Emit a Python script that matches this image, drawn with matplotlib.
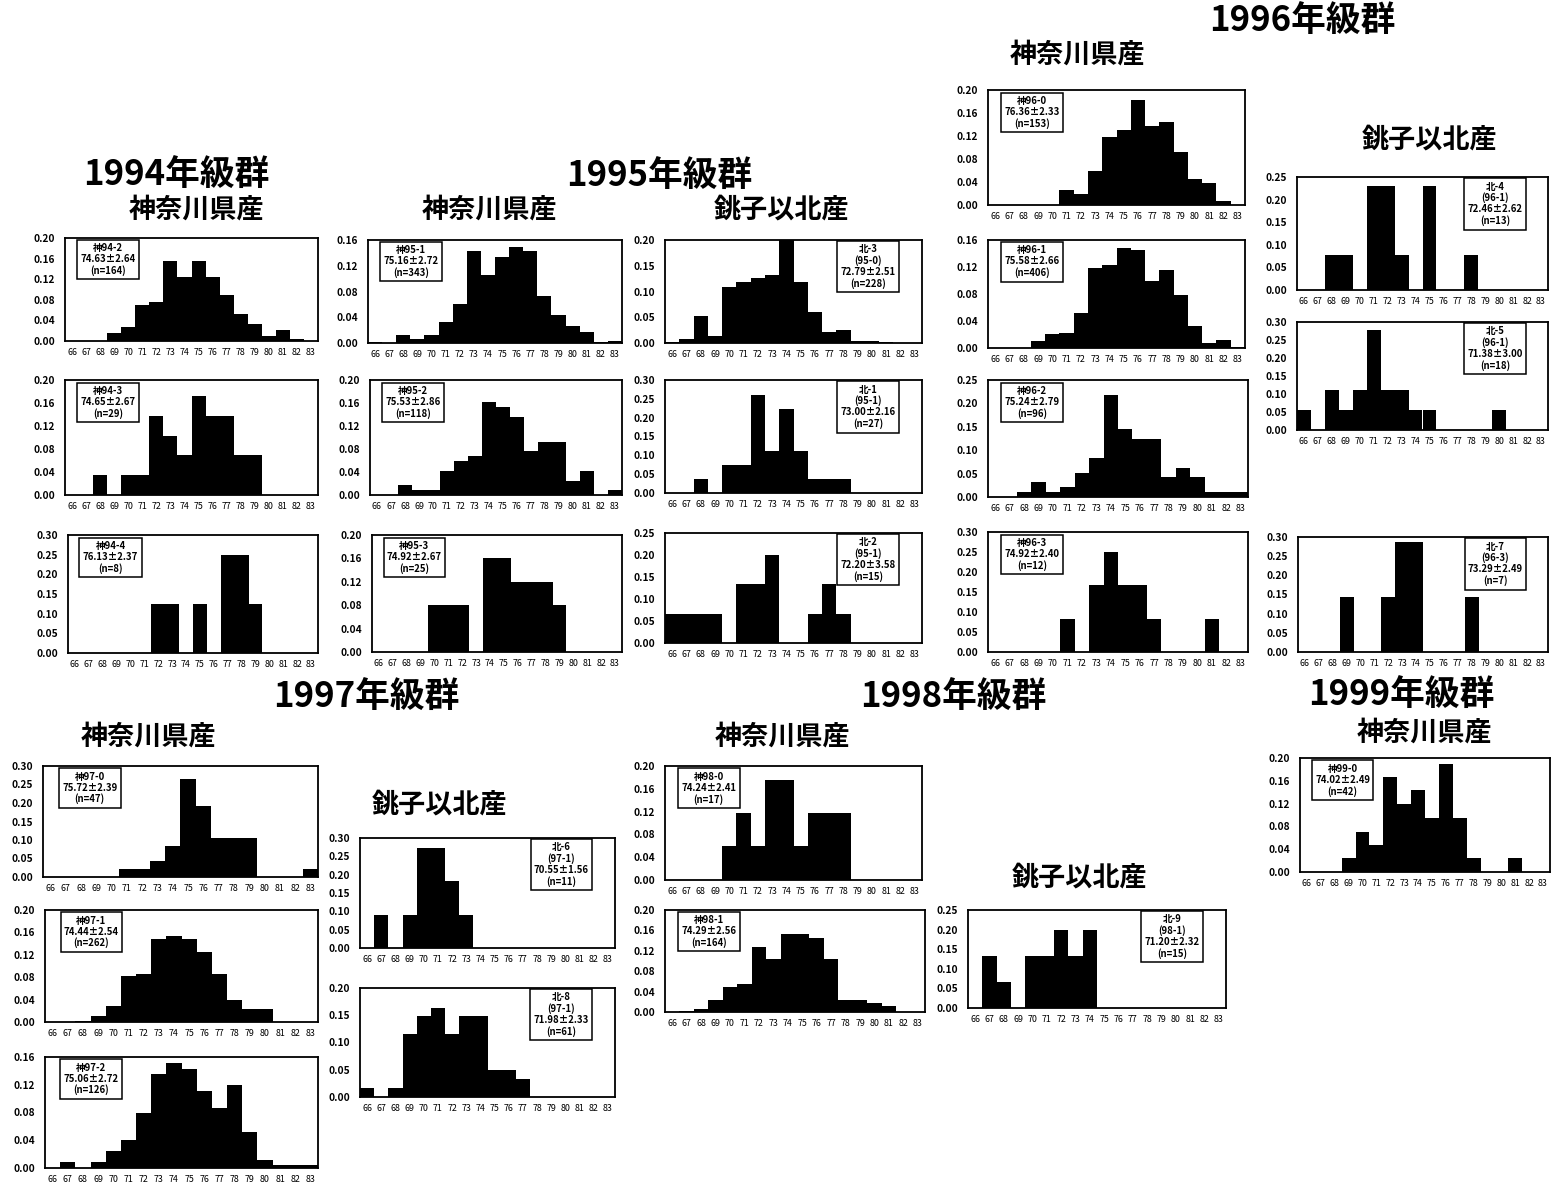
import numpy as np
import matplotlib
matplotlib.use("Agg")
import matplotlib.pyplot as plt

plt.rcParams['font.family'] = ['Noto Sans CJK JP', 'DejaVu Sans']

W, H = 1554, 1198

# 全長階級 (66 ~ 83)
bins = list(range(66, 84))

# 1994年級群
k94_2 = [0, 0, 0, 0.015, 0.027, 0.070, 0.076, 0.155, 0.125, 0.155, 0.125, 0.090, 0.052, 0.033, 0.009, 0.021, 0.003, 0]
k94_3 = [0, 0, 0.034, 0, 0.034, 0.034, 0.138, 0.103, 0.069, 0.172, 0.138, 0.138, 0.069, 0.069, 0, 0, 0, 0]
k94_4 = [0, 0, 0, 0, 0, 0, 0.125, 0.125, 0, 0.125, 0, 0.25, 0.25, 0.125, 0, 0, 0, 0]
# 1995年級群
k95_1 = [0.001, 0, 0.012, 0.006, 0.012, 0.032, 0.061, 0.143, 0.105, 0.134, 0.149, 0.143, 0.073, 0.044, 0.026, 0.017, 0.001, 0.003]
k95_2 = [0, 0, 0.017, 0.008, 0.008, 0.042, 0.059, 0.068, 0.161, 0.153, 0.136, 0.076, 0.093, 0.093, 0.025, 0.042, 0, 0.008]
k95_3 = [0, 0, 0, 0, 0.08, 0.08, 0.08, 0, 0.16, 0.16, 0.12, 0.12, 0.12, 0.08, 0, 0, 0, 0]
n95_3 = [0.002, 0.007, 0.052, 0.013, 0.109, 0.118, 0.127, 0.132, 0.200, 0.118, 0.061, 0.022, 0.026, 0.004, 0.004, 0.002, 0, 0]
n95_1 = [0, 0, 0.037, 0, 0.074, 0.074, 0.259, 0.111, 0.222, 0.111, 0.037, 0.037, 0.037, 0, 0, 0, 0, 0]
n95_2 = [0.067, 0.067, 0.067, 0.067, 0, 0.133, 0.133, 0.200, 0, 0, 0.067, 0.133, 0.067, 0, 0, 0, 0, 0]
# 1996年級群
k96_0 = [0, 0, 0, 0, 0, 0.026, 0.020, 0.059, 0.118, 0.131, 0.183, 0.137, 0.144, 0.092, 0.046, 0.039, 0.007, 0]
k96_1 = [0, 0, 0, 0.010, 0.020, 0.022, 0.052, 0.118, 0.123, 0.148, 0.145, 0.099, 0.116, 0.079, 0.032, 0.007, 0.012, 0.002]
k96_2 = [0, 0, 0.010, 0.031, 0.010, 0.021, 0.052, 0.083, 0.219, 0.146, 0.125, 0.125, 0.042, 0.063, 0.042, 0.010, 0.010, 0.010]
k96_3 = [0, 0, 0, 0, 0, 0.083, 0, 0.167, 0.250, 0.167, 0.167, 0.083, 0, 0, 0, 0.083, 0, 0]
n96_4 = [0, 0, 0.077, 0.077, 0, 0.231, 0.231, 0.077, 0, 0.231, 0, 0, 0.077, 0, 0, 0, 0, 0]
n96_5 = [0.056, 0, 0.111, 0.056, 0.111, 0.278, 0.111, 0.111, 0.056, 0.056, 0, 0, 0, 0, 0.056, 0, 0, 0]
n96_7 = [0, 0, 0, 0.143, 0, 0, 0.143, 0.286, 0.286, 0, 0, 0, 0.143, 0, 0, 0, 0, 0]
# 1997年級群
k97_0 = [0, 0, 0, 0, 0, 0.021, 0.021, 0.043, 0.085, 0.266, 0.191, 0.106, 0.106, 0.106, 0, 0, 0, 0.021]
k97_1 = [0, 0, 0.002, 0.011, 0.029, 0.083, 0.086, 0.149, 0.154, 0.149, 0.125, 0.086, 0.040, 0.023, 0.023, 0, 0, 0]
k97_2 = [0, 0.008, 0, 0.008, 0.024, 0.040, 0.079, 0.135, 0.151, 0.143, 0.111, 0.087, 0.119, 0.052, 0.012, 0.004, 0.004, 0.004]
n97_6 = [0, 0.091, 0, 0.091, 0.273, 0.273, 0.182, 0.091, 0, 0, 0, 0, 0, 0, 0, 0, 0, 0]
n97_8 = [0.016, 0, 0.016, 0.115, 0.148, 0.164, 0.115, 0.148, 0.148, 0.049, 0.049, 0.033, 0, 0, 0, 0, 0, 0]
# 1998年級群
k98_0 = [0, 0, 0, 0, 0.059, 0.118, 0.059, 0.176, 0.176, 0.059, 0.118, 0.118, 0.118, 0, 0, 0, 0, 0]
k98_1 = [0, 0.001, 0.006, 0.024, 0.049, 0.055, 0.128, 0.104, 0.152, 0.152, 0.146, 0.104, 0.024, 0.024, 0.018, 0.012, 0, 0]
n98_9 = [0, 0.133, 0.067, 0, 0.133, 0.133, 0.200, 0.133, 0.200, 0, 0, 0, 0, 0, 0, 0, 0, 0]
# 1999年級群
k99_0 = [0, 0, 0, 0.024, 0.071, 0.048, 0.167, 0.119, 0.143, 0.095, 0.190, 0.095, 0.024, 0, 0, 0.024, 0, 0]

# 凡例ボックスの文字
box_text = {
    'k94_2': ['神94-2', '74.63±2.64', '(n=164)'],
    'k94_3': ['神94-3', '74.65±2.67', '(n=29)'],
    'k94_4': ['神94-4', '76.13±2.37', '(n=8)'],
    'k95_1': ['神95-1', '75.16±2.72', '(n=343)'],
    'k95_2': ['神95-2', '75.53±2.86', '(n=118)'],
    'k95_3': ['神95-3', '74.92±2.67', '(n=25)'],
    'n95_3': ['北-3', '(95-0)', '72.79±2.51', '(n=228)'],
    'n95_1': ['北-1', '(95-1)', '73.00±2.16', '(n=27)'],
    'n95_2': ['北-2', '(95-1)', '72.20±3.58', '(n=15)'],
    'k96_0': ['神96-0', '76.36±2.33', '(n=153)'],
    'k96_1': ['神96-1', '75.58±2.66', '(n=406)'],
    'k96_2': ['神96-2', '75.24±2.79', '(n=96)'],
    'k96_3': ['神96-3', '74.92±2.40', '(n=12)'],
    'n96_4': ['北-4', '(96-1)', '72.46±2.62', '(n=13)'],
    'n96_5': ['北-5', '(96-1)', '71.38±3.00', '(n=18)'],
    'n96_7': ['北-7', '(96-3)', '73.29±2.49', '(n=7)'],
    'k97_0': ['神97-0', '75.72±2.39', '(n=47)'],
    'k97_1': ['神97-1', '74.44±2.54', '(n=262)'],
    'k97_2': ['神97-2', '75.06±2.72', '(n=126)'],
    'n97_6': ['北-6', '(97-1)', '70.55±1.56', '(n=11)'],
    'n97_8': ['北-8', '(97-1)', '71.98±2.33', '(n=61)'],
    'k98_0': ['神98-0', '74.24±2.41', '(n=17)'],
    'k98_1': ['神98-1', '74.29±2.56', '(n=164)'],
    'n98_9': ['北-9', '(98-1)', '71.20±2.32', '(n=15)'],
    'k99_0': ['神99-0', '74.02±2.49', '(n=42)'],
}

# 配置 (px: left, top, right, bottom), y上限, 目盛間隔
panels = [
    ('k94_2', k94_2, (65, 238, 318, 341), 0.20, 0.04),
    ('k94_3', k94_3, (65, 380, 318, 495), 0.20, 0.04),
    ('k94_4', k94_4, (68, 535, 318, 653), 0.30, 0.05),
    ('k95_1', k95_1, (368, 240, 622, 343), 0.16, 0.04),
    ('k95_2', k95_2, (370, 380, 622, 495), 0.20, 0.04),
    ('k95_3', k95_3, (372, 535, 622, 652), 0.20, 0.04),
    ('n95_3', n95_3, (665, 240, 922, 343), 0.20, 0.05),
    ('n95_1', n95_1, (665, 380, 922, 493), 0.30, 0.05),
    ('n95_2', n95_2, (665, 533, 922, 643), 0.25, 0.05),
    ('k96_0', k96_0, (988, 90, 1245, 205), 0.20, 0.04),
    ('k96_1', k96_1, (988, 240, 1245, 348), 0.16, 0.04),
    ('k96_2', k96_2, (988, 380, 1248, 497), 0.25, 0.05),
    ('k96_3', k96_3, (988, 532, 1248, 652), 0.30, 0.05),
    ('n96_4', n96_4, (1297, 177, 1548, 290), 0.25, 0.05),
    ('n96_5', n96_5, (1297, 322, 1548, 430), 0.30, 0.05),
    ('n96_7', n96_7, (1298, 537, 1548, 652), 0.30, 0.05),
    ('k97_0', k97_0, (43, 766, 318, 877), 0.30, 0.05),
    ('k97_1', k97_1, (45, 910, 318, 1022), 0.20, 0.04),
    ('k97_2', k97_2, (45, 1057, 318, 1168), 0.16, 0.04),
    ('n97_6', n97_6, (360, 838, 615, 948), 0.30, 0.05),
    ('n97_8', n97_8, (360, 988, 615, 1097), 0.20, 0.05),
    ('k98_0', k98_0, (665, 766, 922, 880), 0.20, 0.04),
    ('k98_1', k98_1, (665, 910, 925, 1012), 0.20, 0.04),
    ('n98_9', n98_9, (968, 910, 1226, 1008), 0.25, 0.05),
    ('k99_0', k99_0, (1300, 758, 1550, 872), 0.20, 0.04),
]

titles = [
    ('1994年級群', 176, 175), ('1995年級群', 659, 176), ('1996年級群', 1302, 21),
    ('1997年級群', 366, 697), ('1998年級群', 953, 697), ('1999年級群', 1401, 695),
]
subtitles = [
    ('神奈川県産', 196, 210), ('神奈川県産', 489, 210), ('銚子以北産', 782, 210),
    ('神奈川県産', 1077, 55), ('銚子以北産', 1430, 140),
    ('神奈川県産', 148, 737), ('銚子以北産', 440, 805),
    ('神奈川県産', 782, 737), ('銚子以北産', 1080, 878),
    ('神奈川県産', 1424, 733),
]

fig = plt.figure(figsize=(W / 100, H / 100), dpi=100)


def draw_panel(name, vals, box, ymax, ystep):
    l, t, r, b = box
    ax = fig.add_axes([l / W, 1 - b / H, (r - l) / W, (b - t) / H])
    x = np.arange(len(bins))
    ax.bar(x, vals, width=1.0, color='black', linewidth=0)
    ax.set_xlim(-0.5, len(bins) - 0.5)
    ax.set_ylim(0, ymax)
    yt = np.arange(0, ymax + 1e-9, ystep)
    ax.set_yticks(yt)
    ax.set_yticklabels([f'{v:.2f}' for v in yt], fontsize=7.3, fontweight='bold')
    ax.set_xticks(x)
    ax.set_xticklabels([str(v) for v in bins], fontsize=6.4)
    ax.tick_params(axis='y', length=0, pad=7)
    ax.tick_params(axis='x', length=0, pad=5)
    for sp in ax.spines.values():
        sp.set_linewidth(1.3)
    # 凡例ボックス: 神奈川は左上, 北は右上
    if name.startswith('k'):
        bx, by = 0.17, 0.95
    else:
        bx, by = 0.79, 0.96
    ax.text(bx, by, '\n'.join(box_text[name]), transform=ax.transAxes,
            ha='center', va='top', fontsize=6.9, fontweight='bold', linespacing=1.12,
            bbox=dict(boxstyle='square,pad=0.35', fc='white', ec='black', lw=1.1))


for p in panels:
    draw_panel(*p)

for s, x, y in titles:
    fig.text(x / W, 1 - y / H, s, ha='center', va='center', fontsize=25, fontweight='bold')
for s, x, y in subtitles:
    fig.text(x / W, 1 - y / H, s, ha='center', va='center', fontsize=19.5, fontweight='bold')

fig.savefig('out.png', dpi=100)
